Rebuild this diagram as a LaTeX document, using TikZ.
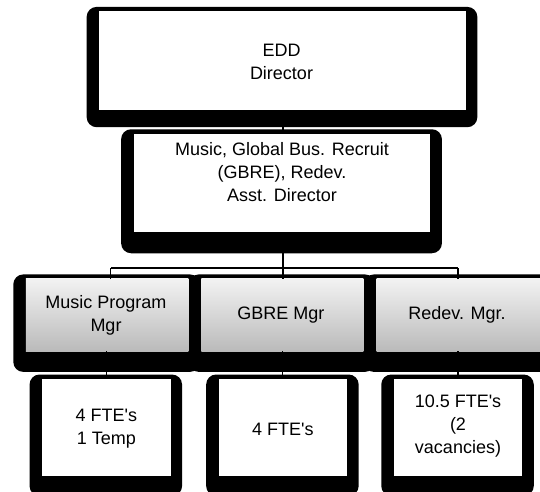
\documentclass[tikz,border=0pt]{standalone}
\usepackage{fontspec}
\setmainfont{Liberation Sans}[Ligatures=TeXOff]
\usetikzlibrary{backgrounds,calc}

\tikzset{
  txt/.style={font=\fontsize{18}{22.8}\selectfont, align=center, inner sep=0pt, text=black},
  inner/.style={rectangle, inner sep=0pt, outer sep=0pt},
  whitebox/.style={inner, fill=white},
  greybox/.style={inner, top color=black!5, bottom color=black!27},
  link/.style={draw=black, line width=1.1pt},
}

% black rounded frame around a box: #1 node name, #2 depth of the lower rim
\newcommand\orgframe[2]{%
  \fill[black, rounded corners=10pt]
    ($(#1.north west)+(-12.5,-4.5)$) rectangle ($(#1.south east)+(11.5,#2)$);}

\begin{document}
\begin{tikzpicture}[x=1pt, y=-1pt]
  \useasboundingbox (0,0) rectangle (540,491);

  % director
  \node[whitebox, minimum width=366.7pt, minimum height=98.8pt] (edd) at (282.5,60.8) {};
  \node[txt] (eddtext) at (281.5,61.6) {EDD\\Director};

  % assistant director
  \node[whitebox, minimum width=296.8pt, minimum height=98.5pt] (asst) at (282,183) {};
  \node[txt] (assttext) at (282,172.2) {Music, Global Bus. Recruit\\(GBRE), Redev.\\Asst. Director};

  % managers
  \node[greybox, minimum width=162.6pt, minimum height=72.4pt] (m1) at (107.1,315.1) {};
  \node[greybox, minimum width=162pt, minimum height=72.4pt] (m2) at (282.4,315.1) {};
  \node[greybox, minimum width=164pt, minimum height=72.4pt] (m3) at (458.5,315.1) {};
  \node[txt] (m1text) at (106,315.5) {Music Program\\Mgr};
  \node[txt] (m2text) at (280.8,315.1) {GBRE Mgr};
  \node[txt] (m3text) at (457,315.1) {Redev. Mgr.};

  % staff
  \node[whitebox, minimum width=128.5pt, minimum height=97pt] (s1) at (106.3,427.5) {};
  \node[whitebox, minimum width=128.5pt, minimum height=97pt] (s2) at (282.9,427.5) {};
  \node[whitebox, minimum width=128.5pt, minimum height=97pt] (s3) at (458,427.5) {};
  \node[txt] (s1text) at (106.3,428.5) {4 FTE's\\1 Temp};
  \node[txt] (s2text) at (282.9,428.9) {4 FTE's};
  \node[txt] (s3text) at (458,426.3) {10.5 FTE's\\(2\\vacancies)};

  \begin{scope}[on background layer]
    \fill[white] (0,0) rectangle (540,491);
    \orgframe{edd}{17}
    \orgframe{asst}{21}
    \orgframe{m1}{20.6}
    \orgframe{m2}{20.6}
    \orgframe{m3}{20.6}
    \orgframe{s1}{20}
    \orgframe{s2}{20}
    \orgframe{s3}{20}
  \end{scope}

  % connectors
  \coordinate (bar) at (283,268);
  \coordinate (barl) at (110.8,268);
  \coordinate (barr) at (458,268);
  \draw[link] (edd.south -| bar) -- (asst.north -| bar);
  \draw[link] (asst.south -| bar) -- (bar);
  \draw[link] (barl) -- (barr);
  \draw[link] (barl) -- (barl |- m1.north);
  \draw[link] (bar) -- (bar |- m2.north);
  \draw[link] (barr) -- (barr |- m3.north);
  \draw[link] (m1.south -| s1.north) -- (s1.north);
  \draw[link] (m2.south -| s2.north) -- (s2.north);
  \draw[link] (m3.south -| s3.north) -- (s3.north);
\end{tikzpicture}
\end{document}
